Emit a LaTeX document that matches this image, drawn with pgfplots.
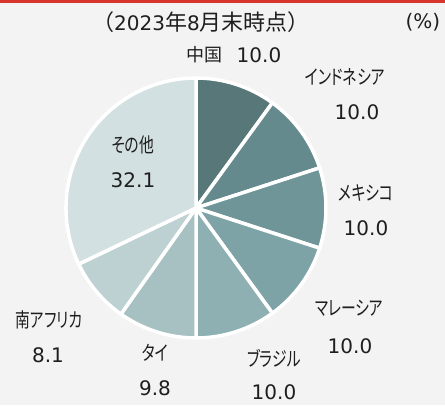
\documentclass[border=0pt]{standalone}
\usepackage{pgfplots}
\usepackage{pgfplotstable}
\pgfplotsset{compat=1.18}
\usepackage{fontspec}
\setmainfont{Noto Sans CJK JP}[RawFeature={+palt}]
\newfontfamily\cjkfull{Noto Sans CJK JP}
\newfontfamily\kana{Noto Sans CJK JP}[RawFeature={+palt}, FakeStretch=0.74]
\newfontfamily\lat{DejaVu Sans}
\newcommand\fs{\fontsize{18}{22}\selectfont}
\newcommand\kfs{\kana\fontsize{20}{22}\selectfont}
\newcommand\num[1]{{\lat\fontsize{20}{22}\selectfont #1}}
\definecolor{bg}{HTML}{F3F3F3}
\definecolor{topred}{HTML}{D7352C}
\definecolor{pc0}{HTML}{587779}
\definecolor{pc1}{HTML}{658A8D}
\definecolor{pc2}{HTML}{6F9599}
\definecolor{pc3}{HTML}{7DA3A6}
\definecolor{pc4}{HTML}{8FB0B2}
\definecolor{pc5}{HTML}{A7C1C3}
\definecolor{pc6}{HTML}{BDD1D2}
\definecolor{pc7}{HTML}{D3E0E1}
\definecolor{txt}{HTML}{1E1E1E}
\pgfplotstableread{
value
10.0
10.0
10.0
10.0
10.0
9.8
8.1
32.1
}\piedata
\begin{document}
\begin{tikzpicture}
\gdef\cum{90}
\pgfplotsforeachungrouped \i in {0,...,7}{%
  \pgfplotstablegetelem{\i}{value}\of\piedata
  \pgfmathsetmacro\endang{\cum-3.6*\pgfplotsretval}%
  \expandafter\xdef\csname sa\i\endcsname{\cum}%
  \expandafter\xdef\csname ea\i\endcsname{\endang}%
  \xdef\cum{\endang}%
}
\begin{axis}[hide axis, x=1pt, y=1pt, xmin=0, xmax=445, ymin=0, ymax=405,
  scale only axis, clip=false]
\fill[bg] (axis cs:0,0) rectangle (axis cs:445,405);
\fill[topred] (axis cs:0,402) rectangle (axis cs:445,405);
\pgfplotsinvokeforeach{0,...,7}{%
  \edef\sa{\csname sa#1\endcsname}\edef\ea{\csname ea#1\endcsname}%
  \edef\cmd{\noexpand\fill[fill=pc#1, draw=white, line width=3.5pt, line join=round]
    (axis cs:196,197) -- ([shift={(\sa:130pt)}]axis cs:196,197)
    arc[start angle=\sa, end angle=\ea, radius=130pt] -- cycle;}%
  \cmd
}
\tikzset{lab/.style={text=txt, inner sep=0pt, font=\fs}}
% title
\node[lab] at (axis cs:201,383) {\cjkfull\fontsize{22}{24}\selectfont （\num{2023}年\num{8}月末時点）};
\node[lab] at (axis cs:423,383) {\num{(\%)}};
% labels
\node[lab] at (axis cs:204,350) {中国};
\node[lab] at (axis cs:259,350) {\num{10.0}};
\node[lab] at (axis cs:345,328) {\kfs インドネシア};
\node[lab] at (axis cs:357,293) {\num{10.0}};
\node[lab] at (axis cs:366,212) {\kfs メキシコ};
\node[lab] at (axis cs:366,177) {\num{10.0}};
\node[lab] at (axis cs:349,97) {\kfs マレーシア};
\node[lab] at (axis cs:350,59) {\num{10.0}};
\node[lab] at (axis cs:274,47) {\kfs ブラジル};
\node[lab] at (axis cs:274,13) {\num{10.0}};
\node[lab] at (axis cs:155,52) {\kfs タイ};
\node[lab] at (axis cs:155,17) {\num{9.8}};
\node[lab] at (axis cs:49,85) {\kfs 南アフリカ};
\node[lab] at (axis cs:48,50) {\num{8.1}};
\node[lab] at (axis cs:133,260) {\kfs その他};
\node[lab] at (axis cs:133,225) {\num{32.1}};
\end{axis}
\end{tikzpicture}
\end{document}
